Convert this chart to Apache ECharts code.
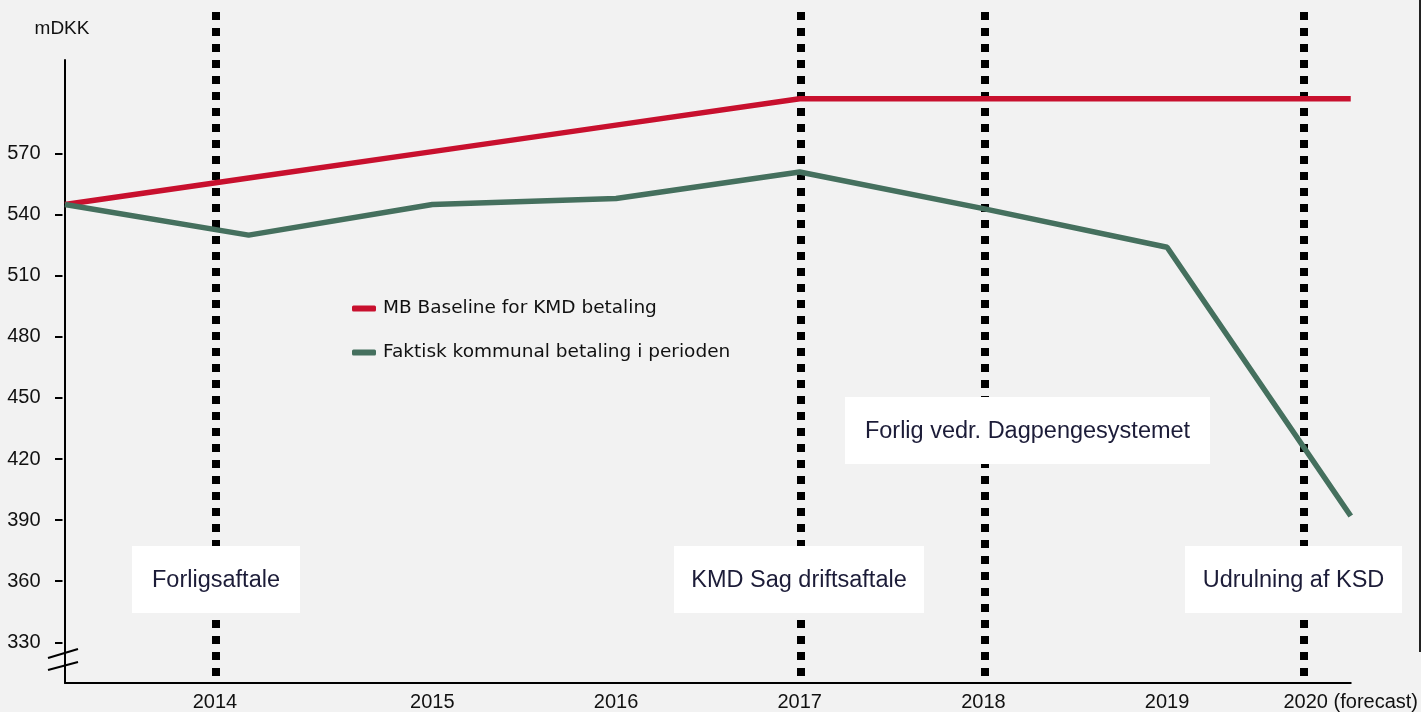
<!DOCTYPE html>
<html>
<head>
<meta charset="utf-8">
<script src="https://cdn.jsdelivr.net/npm/echarts@6/dist/echarts.min.js"></script>
<style>
  html, body { margin: 0; padding: 0; background: #f2f2f2; }
  #chart { width: 1421px; height: 712px; }
</style>
</head>
<body>
<div id="chart"></div>
<script>
// x positions are period indexes 0..7 (start, 2014 ... 2020)
const periods = [0, 1, 2, 3, 4, 5, 6, 7];
const baseline = [545, 558, 571, 584, 597, 597, 597, 597];   // MB Baseline for KMD betaling
const actual = [545, 530, 545, 548, 561, 543, 524, 392];     // Faktisk kommunal betaling i perioden

const xLabelPos = [0.816, 2, 3, 4, 5, 6, 7];
const xLabels = ['2014', '2015', '2016', '2017', '2018', '2019', '2020 (forecast)'];
const yTicks = [330, 360, 390, 420, 450, 480, 510, 540, 570];

// vertical dotted event lines
const eventX = [0.816, 4, 5, 6.744];

const axisFont = 'Liberation Sans, Arial, sans-serif';
const noteFont = 'Liberation Sans, Arial, sans-serif';

const chart = echarts.init(document.getElementById('chart'));

// white annotation boxes (pixel layout)
function noteBox(x, y, w, h, text) {
  return [
    { type: 'rect', z: 100, shape: { x: x, y: y, width: w, height: h }, style: { fill: '#ffffff' } },
    {
      type: 'text', z: 101, x: x + w / 2, y: y + h / 2 + 1,
      style: {
        text: text, font: '23.5px ' + noteFont, fill: '#1c1c38',
        align: 'center', verticalAlign: 'middle'
      }
    }
  ];
}

const option = {
  backgroundColor: '#f2f2f2',
  animation: false,
  grid: [
    { left: 65, right: 69, top: 60, bottom: 29 },
    { left: 65, right: 69, top: 12, bottom: 36 }
  ],
  legend: {
    orient: 'vertical',
    left: 347,
    top: 291,
    itemWidth: 24,
    itemHeight: 6,
    itemGap: 19,
    icon: 'roundRect',
    textStyle: { fontFamily: 'DejaVu Sans', fontSize: 18.5, color: '#111', lineHeight: 22, padding: [3, 0, 0, 2] },
    data: ['MB Baseline for KMD betaling', 'Faktisk kommunal betaling i perioden']
  },
  xAxis: [
    {
      type: 'value', min: 0, max: 7, gridIndex: 0,
      axisLine: { show: true, lineStyle: { color: '#000', width: 2 } },
      axisTick: { show: false },
      splitLine: { show: false },
      axisLabel: {
        customValues: xLabelPos,
        margin: 9,
        fontFamily: axisFont, fontSize: 20, color: '#111',
        formatter: function (v) {
          let best = 0;
          xLabelPos.forEach(function (p, i) {
            if (Math.abs(p - v) < Math.abs(xLabelPos[best] - v)) best = i;
          });
          return xLabels[best];
        }
      }
    },
    { type: 'value', min: 0, max: 7, gridIndex: 1, show: false }
  ],
  yAxis: [
    {
      type: 'value', min: 310, max: 616, gridIndex: 0,
      name: 'mDKK',
      nameGap: 22,
      nameTextStyle: { fontFamily: axisFont, fontSize: 19, color: '#111', padding: [0, 6, 0, 0] },
      axisLine: { show: true, lineStyle: { color: '#000', width: 2 } },
      axisTick: { show: false },
      axisLabel: { show: false },
      splitLine: { show: false }
    },
    {
      type: 'value', min: 310, max: 616, gridIndex: 0, position: 'left', offset: 2.5,
      axisLine: { show: false },
      axisTick: { show: true, customValues: yTicks, length: 7.5, lineStyle: { color: '#000', width: 2 } },
      axisLabel: { customValues: yTicks, margin: 22, fontFamily: axisFont, fontSize: 20, color: '#111' },
      splitLine: { show: false }
    },
    { type: 'value', min: 0, max: 1, gridIndex: 1, show: false }
  ],
  series: [
    {
      type: 'line', xAxisIndex: 1, yAxisIndex: 2, data: [], silent: true, z: 1,
      markLine: {
        symbol: 'none', silent: true, animation: false,
        label: { show: false },
        lineStyle: { color: '#000', width: 8, type: [8, 8] },
        data: eventX.map(function (v) { return { xAxis: v }; })
      }
    },
    {
      name: 'MB Baseline for KMD betaling',
      type: 'line', xAxisIndex: 0, yAxisIndex: 0, z: 5,
      showSymbol: false, symbol: 'none',
      color: '#c8102e',
      lineStyle: { width: 5.5, color: '#c8102e' },
      data: periods.map(function (p, i) { return [p, baseline[i]]; })
    },
    {
      name: 'Faktisk kommunal betaling i perioden',
      type: 'line', xAxisIndex: 0, yAxisIndex: 0, z: 5,
      showSymbol: false, symbol: 'none',
      color: '#45705e',
      lineStyle: { width: 5.5, color: '#45705e' },
      data: periods.map(function (p, i) { return [p, actual[i]]; })
    }
  ],
  graphic: [].concat(
    noteBox(132, 546, 168, 67, 'Forligsaftale'),
    noteBox(674, 546, 250, 67, 'KMD Sag driftsaftale'),
    noteBox(845, 397, 365, 67, 'Forlig vedr. Dagpengesystemet'),
    noteBox(1185, 546, 217, 67, 'Udrulning af KSD'),
    [
      // axis break mark
      { type: 'line', z: 100, shape: { x1: 48, y1: 658, x2: 78, y2: 649 }, style: { stroke: '#000', lineWidth: 2 } },
      { type: 'line', z: 100, shape: { x1: 48, y1: 670, x2: 78, y2: 662 }, style: { stroke: '#000', lineWidth: 2 } },
      // frame edge on the right
      { type: 'line', z: 100, shape: { x1: 1420, y1: 0, x2: 1420, y2: 652 }, style: { stroke: '#222', lineWidth: 2 } }
    ]
  )
};

chart.setOption(option);
</script>
</body>
</html>
